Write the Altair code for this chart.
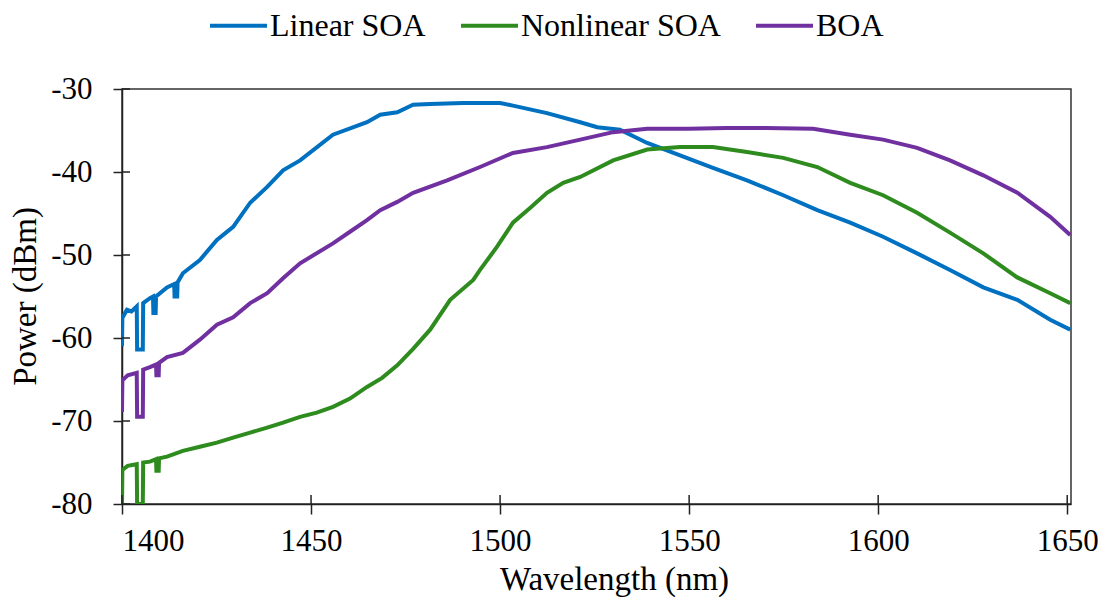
import altair as alt
import pandas as pd

# ---- data ----
lin_wl = [1400.0, 1400.1, 1401.3, 1402.5, 1403.9, 1404.0, 1405.5, 1405.6, 1407.4, 1408.2, 1408.3, 1408.9, 1409.0,
          1411.9, 1413.8, 1413.9, 1414.6, 1414.7, 1416.1, 1420.6, 1425.1, 1429.4, 1433.9, 1438.4, 1442.6, 1447.1,
          1455.8, 1464.8, 1468.3, 1472.8, 1477.0, 1481.5, 1490.2, 1500.0, 1503.4, 1512.4, 1521.2, 1525.7, 1531.7,
          1538.9, 1547.6, 1556.3, 1565.3, 1574.9, 1583.9, 1592.6, 1601.3, 1610.3, 1619.0, 1627.8, 1636.8, 1645.5, 1650.8]
lin_db = [-61.0, -57.6, -56.6, -56.8, -56.2, -61.4, -61.4, -55.8, -55.2, -55.0, -57.0, -57.0, -55.0,
          -53.9, -53.5, -55.0, -55.0, -53.3, -52.2, -50.6, -48.2, -46.6, -43.7, -41.8, -39.8, -38.6,
          -35.5, -34.0, -33.1, -32.8, -31.9, -31.8, -31.7, -31.7, -32.0, -32.9, -34.0, -34.6, -34.9,
          -36.5, -38.0, -39.5, -41.0, -42.8, -44.6, -46.1, -47.8, -49.8, -51.8, -53.9, -55.4, -57.8, -59.0]

non_wl = [1400.0, 1400.1, 1401.5, 1403.9, 1404.0, 1405.5, 1405.6, 1407.4, 1409.0, 1409.1, 1409.7, 1409.8,
          1411.9, 1416.1, 1420.6, 1425.1, 1429.4, 1433.9, 1438.4, 1442.6, 1447.1, 1451.5, 1455.8, 1460.3,
          1464.8, 1468.8, 1472.8, 1477.0, 1481.5, 1486.8, 1492.9, 1494.7, 1499.2, 1503.4, 1508.0, 1512.4,
          1516.7, 1521.2, 1529.9, 1538.9, 1547.6, 1556.3, 1565.3, 1574.9, 1583.9, 1592.6, 1601.3, 1610.3,
          1619.0, 1627.8, 1636.8, 1645.5, 1650.8]
non_db = [-80.0, -75.9, -75.4, -75.2, -80.0, -80.0, -75.0, -74.9, -74.6, -76.0, -76.0, -74.5,
          -74.3, -73.6, -73.1, -72.6, -72.0, -71.4, -70.8, -70.2, -69.5, -69.0, -68.3, -67.3,
          -65.9, -64.8, -63.3, -61.3, -59.0, -55.4, -53.0, -51.8, -49.0, -46.1, -44.3, -42.5,
          -41.3, -40.6, -38.6, -37.3, -37.0, -37.0, -37.6, -38.3, -39.4, -41.3, -42.8, -44.9,
          -47.3, -49.8, -52.7, -54.6, -55.8]

boa_wl = [1400.0, 1400.1, 1401.5, 1403.9, 1404.0, 1405.5, 1405.6, 1407.4, 1409.0, 1409.1, 1409.7, 1409.8,
          1411.9, 1416.1, 1420.6, 1425.1, 1429.4, 1433.9, 1438.4, 1442.6, 1447.1, 1455.8, 1460.3, 1464.8,
          1468.3, 1472.8, 1477.0, 1486.0, 1494.7, 1503.4, 1512.4, 1521.2, 1529.9, 1538.9, 1550.0, 1560.0,
          1570.0, 1582.8, 1592.6, 1601.3, 1610.3, 1619.0, 1627.8, 1636.8, 1645.5, 1650.8]
boa_db = [-68.9, -65.1, -64.5, -64.2, -69.5, -69.5, -63.8, -63.5, -63.2, -64.5, -64.5, -63.0,
          -62.3, -61.8, -60.2, -58.4, -57.5, -55.8, -54.6, -52.8, -51.0, -48.6, -47.2, -45.8,
          -44.6, -43.6, -42.5, -41.0, -39.4, -37.7, -37.0, -36.1, -35.2, -34.8, -34.8, -34.7,
          -34.7, -34.8, -35.5, -36.1, -37.1, -38.6, -40.4, -42.5, -45.4, -47.6]

series = ["Linear SOA", "Nonlinear SOA", "BOA"]
colors = ["#0070C0", "#2E8B1E", "#7030A0"]
y_ticks = [-80, -70, -60, -50, -40, -30]
x_ticks = [1400, 1450, 1500, 1550, 1600, 1650]

rows = []
for name, wl, db in [(series[0], lin_wl, lin_db), (series[1], non_wl, non_db), (series[2], boa_wl, boa_db)]:
    for i, (w, d) in enumerate(zip(wl, db)):
        rows.append({"Series": name, "wl": w, "db": d, "order": i})
df = pd.DataFrame(rows)

W, H = 949, 415
FONT = "Liberation Serif"

xscale = alt.Scale(domain=[1400, 1651], nice=False)
yscale = alt.Scale(domain=[-80, -30], nice=False)

lines = alt.Chart(df).mark_line(strokeWidth=4, clip=True).encode(
    x=alt.X("wl:Q", scale=xscale,
            axis=alt.Axis(title="Wavelength (nm)", values=x_ticks, labelExpr="datum.value + ''",
                          tickSize=10, labelPadding=12, titleX=492, titleY=85,
                          titleBaseline="alphabetic")),
    y=alt.Y("db:Q", scale=yscale,
            axis=alt.Axis(title="Power (dBm)", values=y_ticks, labelExpr="datum.value + ''",
                          tickSize=9, labelPadding=21, titleX=-87, titleY=207,
                          titleBaseline="alphabetic", titleAlign="center")),
    color=alt.Color("Series:N", scale=alt.Scale(domain=series, range=colors),
                    legend=alt.Legend(title=None, orient="none", legendX=86, legendY=-94,
                                      direction="horizontal", symbolType="stroke",
                                      symbolSize=3249, symbolStrokeWidth=4,
                                      labelFont=FONT, labelFontSize=32, labelColor="#000",
                                      labelOffset=1, columnPadding=27, padding=0,
                                      labelLimit=500)),
    order="order:Q",
)

ytick_df = pd.DataFrame({"v": y_ticks})
xtick_df = pd.DataFrame({"v": x_ticks})
yin = alt.Chart(ytick_df).mark_rule(color="#222", strokeWidth=1.5).encode(
    y=alt.Y("v:Q", scale=yscale), x=alt.value(0), x2=alt.value(8))
xin = alt.Chart(xtick_df).mark_rule(color="#222", strokeWidth=1.5).encode(
    x=alt.X("v:Q", scale=xscale), y=alt.value(H), y2=alt.value(H - 9))

chart = alt.layer(lines, yin, xin).properties(
    width=W, height=H,
    autosize=alt.AutoSizeParams(type="none"),
    padding={"left": 114, "top": 81, "right": 27, "bottom": 93},
).configure_view(
    stroke="#333", strokeWidth=1.5
).configure_axis(
    labelFont=FONT, labelFontSize=31, labelColor="#000",
    titleFont=FONT, titleFontSize=33, titleColor="#000", titleFontWeight="normal",
    domainColor="#222", domainWidth=1.5, tickColor="#222", tickWidth=1.5, grid=False,
)

chart.save("out.html", embed_options={"renderer": "svg", "actions": False})
